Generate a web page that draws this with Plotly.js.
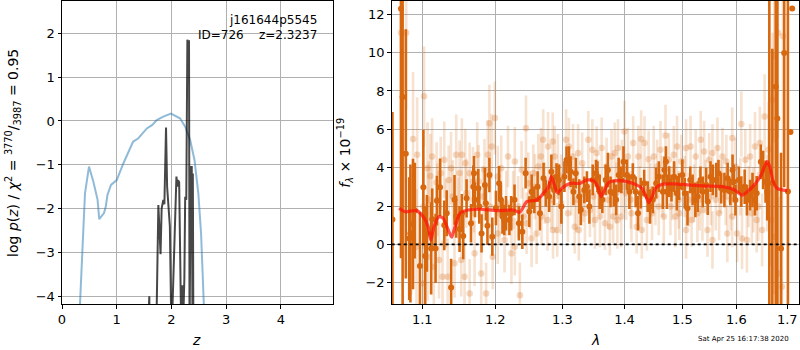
<!DOCTYPE html>
<html><head><meta charset="utf-8">
<script src="https://cdn.plot.ly/plotly-3.0.1.min.js"></script>
<style>body{margin:0;background:#fff;}#chart{width:800px;height:350px;}</style>
</head><body><div id="chart"></div>
<script>
// ---- left panel: redshift PDF (blue) and chi2 curve (dark) ----
const pzZ    = [0.30, 0.329, 0.42, 0.493, 0.572, 0.65, 0.68, 0.72, 0.767, 0.80, 0.83, 0.895, 1.0, 1.12, 1.30, 1.39, 1.55, 1.65, 1.73, 1.85, 1.99, 2.155, 2.25, 2.34, 2.42, 2.49, 2.54, 2.59, 2.62];
const pzLogP = [-6, -4.17, -1.65, -1.04, -1.38, -1.80, -2.24, -2.18, -2.10, -1.95, -1.69, -1.46, -1.35, -0.97, -0.47, -0.40, -0.17, -0.09, 0.02, 0.10, 0.17, 0.06, -0.13, -0.43, -0.89, -1.65, -2.56, -4.17, -6];
const chiZ    = [1.56, 1.595, 1.60, 1.63, 1.72, 1.76, 1.80, 1.82, 1.85, 1.87, 1.90, 1.92, 1.94, 1.97, 2.00, 2.045, 2.07, 2.09, 2.11, 2.12, 2.14, 2.18, 2.20, 2.22, 2.235, 2.25, 2.27, 2.29, 2.30, 2.32, 2.33, 2.35, 2.37, 2.385, 2.39, 2.40, 2.42, 2.45];
const chiLogP = [-5, -4.0, -5, -5, -5, -1.92, -3.04, -2.0, -1.80, -1.9, -0.15, -1.5, -1.85, -2.4, -5, -2.96, -1.6, -1.27, -1.5, -1.35, -1.4, -5, -3.75, -4.3, -3.6, -1.73, -1.8, 1.85, 1.82, 1.82, -5, -1.05, -1.05, -5, -1.2, -5, -5, -5];

// ---- right panel: spectrum ----
const darkWave = [1.0615,1.0724,1.0745,1.0786,1.0830,1.0845,1.0879,1.0902,1.0969,1.1014,1.1038,1.1061,1.1117,1.1131,1.1176,1.1194,1.1236,1.1292,1.1325,1.1385,1.1431,1.1454,1.1500,1.1532,1.1551,1.1597,1.1658,1.1690,1.1700,1.1714,1.1760,1.1774,1.1806,1.1853,1.1867,1.1889,1.1917,1.1958,1.2010,1.2055,1.2081,1.2104,1.2130,1.2155,1.2204,1.2230,1.2279,1.2343,1.2394,1.2443,1.2498,1.2533,1.2573,1.2622,1.2657,1.2712,1.2746,1.2797,1.2831,1.2872,1.2910,1.2946,1.2985,1.3032,1.3065,1.3103,1.3129,1.3173,1.3210,1.3265,1.3290,1.3345,1.3387,1.3426,1.3479,1.3532,1.3555,1.3592,1.3635,1.3689,1.3726,1.3769,1.3823,1.3861,1.3903,1.3947,1.3984,1.4042,1.4082,1.4140,1.4188,1.4228,1.4275,1.4333,1.4393,1.4433,1.4481,1.4539,1.4586,1.4656,1.4684,1.4709,1.4726,1.4767,1.4807,1.4854,1.4902,1.4942,1.5000,1.5044,1.5093,1.5143,1.5185,1.5235,1.5278,1.5328,1.5370,1.5433,1.5463,1.5513,1.5556,1.5619,1.5661,1.5711,1.5772,1.5833,1.5883,1.5926,1.5951,1.5981,1.6045,1.6094,1.6158,1.6202,1.6264,1.6309,1.6358,1.6391,1.6472,1.6517,1.6566,1.6598,1.6640,1.6700,1.6768,1.6800,1.6875,1.6938,1.7013,1.7065,1.7100];
const darkFlux = [1.3,12.28,7.68,4.72,0.3,0.57,1.06,1.76,-1.13,2.98,-0.61,0.57,-0.21,1.31,-0.21,2.28,2.98,0.99,1.62,-2.25,2.32,1.45,0.80,1.62,0.43,2.40,1.10,3.01,3.71,2.32,2.93,1.97,0.57,3.10,2.14,0.97,3.62,0.40,1.90,3.19,2.32,1.45,1.27,1.62,1.27,1.62,2.32,1.10,0.66,3.71,1.71,2.74,2.32,3.01,1.62,3.45,2.67,2.49,3.79,2.84,3.53,3.36,1.97,3.53,4.40,4.22,3.79,2.74,3.71,2.49,1.80,2.84,3.01,1.97,3.36,3.71,3.53,2.74,2.32,3.36,3.88,2.74,2.67,2.32,3.62,3.36,4.31,3.62,2.74,3.53,2.74,1.62,2.67,3.19,2.49,1.97,2.32,3.19,3.53,2.74,3.88,4.31,2.74,3.27,2.93,3.53,2.67,3.01,3.62,2.67,1.88,3.36,2.84,2.32,2.49,3.36,2.74,3.10,2.23,3.53,3.36,3.36,3.71,2.93,2.84,3.45,2.74,3.88,3.27,2.31,3.36,2.75,3.01,2.31,2.57,2.83,2.31,2.66,4.31,3.88,3.27,2.75,3.80,3.20,8.22,6.56,-0.22,9.98,2.75,5.86,12.3];
const darkErr  = [5.6,13,11,6.5,3.2,3.6,3.4,2.5,2.8,3.0,2.6,2.0,2.4,1.6,1.8,1.3,1.5,1.3,1.2,1.5,1.3,1.1,1.2,1.0,1.2,1.0,1.0,1.1,0.9,0.9,1.0,0.9,1.0,0.9,0.9,1.0,0.9,1.0,0.9,0.9,0.8,0.9,0.8,0.9,0.8,0.9,0.8,0.9,0.9,0.8,0.8,0.9,0.7,0.8,0.9,0.8,0.7,0.8,0.9,0.8,0.7,0.8,0.9,0.8,0.7,0.9,0.8,0.7,0.8,0.9,0.8,0.7,0.8,0.9,0.8,0.7,0.8,0.9,0.7,0.8,0.9,0.8,0.7,0.8,0.9,0.7,0.8,0.8,0.9,0.7,0.8,0.9,0.8,0.7,0.8,0.9,0.7,0.8,0.8,0.9,0.7,0.8,0.9,0.8,0.7,0.8,0.9,0.7,0.8,0.8,0.9,0.7,0.8,0.9,0.8,0.7,0.8,0.9,0.7,0.8,0.8,0.9,0.7,0.8,0.9,0.8,0.7,0.8,0.9,0.8,0.7,0.8,0.9,0.8,0.8,0.9,0.8,0.9,0.9,1.0,1.1,1.5,9.0,7.0,13,12,5.0,7,10];

const lightWave = [1.0724,1.0791,1.1023,1.0880,1.0933,1.1069,1.1106,1.1130,1.1190,1.1245,1.1292,1.1352,1.1384,1.1454,1.1500,1.1532,1.1579,1.1639,1.1685,1.1745,1.1764,1.1847,1.1894,1.1917,1.1949,1.1995,1.2035,1.2085,1.2184,1.2284,1.2383,1.2448,1.2483,1.2557,1.2632,1.2672,1.2706,1.2781,1.2851,1.2881,1.2930,1.2980,1.3059,1.3102,1.3167,1.3247,1.3312,1.3409,1.3473,1.3543,1.3624,1.3704,1.3785,1.3839,1.3892,1.3957,1.4000,1.4058,1.4146,1.4234,1.4281,1.4339,1.4409,1.4497,1.4556,1.4614,1.4702,1.4760,1.4848,1.4906,1.4982,1.5068,1.5148,1.5241,1.5333,1.5395,1.5488,1.5549,1.5642,1.5735,1.5809,1.5920,1.5981,1.6094,1.6170,1.6264,1.6358,1.6453,1.6547,1.6623,1.6704,1.6736,1.6811,1.6912,
  1.0858,1.0924,1.1014,1.1069,1.1153,1.1222,1.1269,1.1338,1.1431,1.1523,1.1569,1.1639,1.1708,1.1801,1.1870,1.1963,1.2035,1.2134,1.2234,1.2284,1.2358,1.2408,1.2458,1.2532,1.2607,1.2682,1.2771,1.2856,1.2920,1.2980,1.3086,1.3194,1.3258,1.3355,1.3435,1.3516,1.3597,1.3677,1.3758,1.3812,1.3882,1.3946,1.4029,1.4117,1.4205,1.4292,1.4380,1.4468,1.4585,1.4673,1.4789,1.4877,1.4947,1.5068,1.5167,1.5272,1.5364,1.5457,1.5549,1.5673,1.5827,1.5920,1.6013,1.6107,1.6201,1.6296,1.6390,1.6497,1.6673,1.6736,1.6830,1.6893,
  1.1014,1.1083,1.1199,1.1315,1.1407,1.1486,1.1593,1.1699,1.1824,1.1931,1.2060,1.2159,1.2259,1.2333,1.2507,1.2582,1.2731,1.2831,1.2955,1.3140,1.3220,1.3328,1.3489,1.3570,1.3731,1.3866,1.3989,1.4105,1.4263,1.4439,1.4526,1.4643,1.4819,1.4936,1.5043,1.5117,1.5210,1.5315,1.5426,1.5519,1.5611,1.5704,1.5796,1.5889,1.6075,1.6233,1.6327,1.6421,1.6597];
const lightFlux = [11.03,11.03,7.72,5.49,4.67,3.97,3.57,4.58,3.22,3.71,4.41,3.36,3.97,4.67,3.71,4.67,4.23,3.71,3.28,4.67,3.28,3.89,4.67,6.32,5.10,6.59,3.54,3.97,4.58,4.32,3.89,6.06,3.19,3.71,4.06,4.58,5.45,5.10,5.37,4.58,4.06,3.19,5.45,5.10,4.58,4.76,4.23,5.45,4.93,4.76,5.02,4.06,4.58,4.76,5.02,4.06,5.89,4.58,5.28,4.58,5.49,5.28,4.44,4.58,4.06,4.93,5.68,4.41,4.67,5.10,4.32,5.02,5.10,4.58,5.45,4.84,4.41,4.76,5.02,4.58,4.32,5.54,4.06,6.27,4.41,4.58,5.10,5.28,6.67,4.93,7.54,9.81,11.03,10.85,
  0.57,-0.12,-2.04,-0.64,-1.17,-0.82,-1.69,-1.69,-0.99,-0.82,-1.69,-2.56,-0.47,-1.52,-2.56,-0.64,0.57,0.23,-0.47,-0.12,-2.65,1.45,1.10,0.31,0.57,1.45,1.27,0.75,0.75,2.14,1.62,0.92,0.75,1.62,1.79,1.27,1.45,1.10,0.92,1.45,1.27,1.45,2.67,1.62,0.92,0.75,1.27,1.62,1.97,1.45,1.97,1.45,1.62,0.75,1.27,1.62,1.79,0.75,0.23,1.62,0.57,1.45,0.57,0.31,0.23,1.62,1.27,0.75,1.27,0.40,-1.52,-2.21,
  1.97,2.32,2.32,1.62,2.49,1.79,2.67,2.32,2.49,1.97,1.62,2.14,2.32,1.97,2.32,3.01,2.67,2.32,2.49,3.01,2.32,2.67,2.49,3.01,2.32,2.67,3.01,2.32,2.49,2.84,2.49,3.01,2.67,2.32,3.01,2.32,2.67,2.32,3.01,2.49,2.32,3.01,2.49,2.32,3.01,2.49,2.32,1.97,2.67];
const lightErr = [5,4,2.6,3.5,3.0,2.4,2.2,2.0,2.1,1.9,2.0,1.8,1.9,2.1,1.7,1.9,1.8,1.6,1.8,1.7,1.9,1.6,1.8,2.0,1.7,1.9,1.6,1.7,1.6,1.8,1.5,1.7,1.6,1.5,1.7,1.5,1.6,1.8,1.5,1.6,1.7,1.5,1.6,1.5,1.7,1.5,1.6,1.5,1.6,1.4,1.6,1.5,1.4,1.6,1.5,1.4,1.6,1.5,1.4,1.6,1.5,1.4,1.5,1.6,1.4,1.5,1.6,1.4,1.5,1.6,1.4,1.5,1.6,1.4,1.5,1.6,1.4,1.5,1.6,1.5,1.4,1.6,1.5,1.7,1.6,1.7,1.8,1.9,2.2,2.5,3.5,4.5,5.5,6.5,
  3.2,3.0,2.6,2.3,2.1,2.0,1.9,2.0,1.8,1.9,1.7,1.8,1.7,1.8,1.6,1.7,1.6,1.7,1.6,1.5,1.7,1.5,1.6,1.5,1.6,1.5,1.6,1.5,1.4,1.6,1.5,1.4,1.6,1.5,1.4,1.5,1.6,1.4,1.5,1.4,1.5,1.6,1.4,1.5,1.4,1.5,1.6,1.4,1.5,1.4,1.5,1.6,1.4,1.5,1.4,1.5,1.6,1.4,1.5,1.4,1.5,1.6,1.5,1.6,1.7,1.6,1.7,1.9,2.4,3.0,4.0,5.0,
  2.2,2.0,1.9,1.8,1.9,1.7,1.8,1.7,1.6,1.8,1.6,1.7,1.5,1.6,1.5,1.7,1.6,1.5,1.6,1.5,1.7,1.5,1.6,1.4,1.5,1.6,1.4,1.5,1.6,1.4,1.5,1.6,1.4,1.5,1.6,1.4,1.5,1.6,1.4,1.5,1.6,1.4,1.5,1.6,1.5,1.6,1.7,1.8,2.0];

const modelWave = [1.0700,1.0776,1.0926,1.1013,1.1078,1.1113,1.1155,1.1218,1.1277,1.1346,1.1392,1.1438,1.1505,1.1620,1.1784,1.2018,1.2262,1.2357,1.2399,1.2459,1.2608,1.2711,1.2786,1.2829,1.2862,1.2923,1.2991,1.3120,1.3277,1.3384,1.3490,1.3571,1.3614,1.3672,1.3737,1.3877,1.4044,1.4212,1.4297,1.4354,1.4411,1.4469,1.4527,1.4643,1.4848,1.5147,1.5451,1.5760,1.5949,1.6110,1.6206,1.6368,1.6478,1.6544,1.6597,1.6650,1.6717,1.6797,1.7001];
const modelFlux = [1.88,1.70,1.76,1.44,0.92,0.22,0.92,1.44,1.36,0.75,0.37,0.92,1.62,1.79,1.83,1.76,1.79,1.67,1.88,2.23,2.31,2.66,3.00,3.53,3.27,2.69,2.92,3.18,3.18,3.36,3.32,2.92,2.49,2.83,3.22,3.32,3.27,3.09,2.92,2.57,2.18,2.49,2.92,3.13,3.15,3.09,3.04,3.00,2.86,2.57,2.74,3.18,3.62,4.05,4.31,4.05,3.27,2.92,2.80];

const zTicks = [0, 1, 2, 3, 4];
const pTicks = [-4, -3, -2, -1, 0, 1, 2];
const lamTicks = [1.1, 1.2, 1.3, 1.4, 1.5, 1.6, 1.7];
const fTicks = [-2, 0, 2, 4, 6, 8, 10, 12];

const ORANGE = 'rgb(216,104,15)';
const font = 'DejaVu Sans, Liberation Sans, sans-serif';

const traces = [
  {x: pzZ, y: pzLogP, xaxis: 'x', yaxis: 'y', mode: 'lines', line: {color: 'rgba(31,119,180,0.5)', width: 2}, hoverinfo: 'skip'},
  {x: chiZ, y: chiLogP, xaxis: 'x', yaxis: 'y', mode: 'lines', line: {color: 'rgba(0,0,0,0.72)', width: 2}, hoverinfo: 'skip'},
  {x: lightWave, y: lightFlux, xaxis: 'x2', yaxis: 'y2', mode: 'markers',
   marker: {color: 'rgba(216,104,15,0.25)', size: 6.5, line: {width: 0}},
   error_y: {type: 'data', array: lightErr, visible: true, thickness: 2.6, width: 0, color: 'rgba(216,104,15,0.2)'}, hoverinfo: 'skip'},
  {x: darkWave, y: darkFlux, xaxis: 'x2', yaxis: 'y2', mode: 'markers',
   marker: {color: ORANGE, size: 6, line: {width: 0}},
   error_y: {type: 'data', array: darkErr, visible: true, thickness: 2.6, width: 0, color: ORANGE}, hoverinfo: 'skip'},
  {x: modelWave, y: modelFlux, xaxis: 'x2', yaxis: 'y2', mode: 'lines', line: {color: 'rgba(255,20,10,0.72)', width: 3.2, shape: 'spline', smoothing: 0.6}, hoverinfo: 'skip'}
];

const axBase = {
  showline: true, mirror: true, linecolor: '#000', linewidth: 1,
  ticks: 'outside', ticklen: 3.5, tickwidth: 1, tickcolor: '#000',
  showgrid: true, gridcolor: '#b0b0b0', gridwidth: 1, zeroline: false,
  tickfont: {family: font, size: 13, color: '#000'}
};

const layout = {
  width: 800, height: 350,
  margin: {l: 0, r: 0, t: 1, b: 46},
  paper_bgcolor: '#fff', plot_bgcolor: '#fff',
  showlegend: false,
  font: {family: font, color: '#000'},
  xaxis: Object.assign({}, axBase, {domain: [0.0775, 0.4166], range: [0, 4.955], tickvals: zTicks, anchor: 'y'}),
  yaxis: Object.assign({}, axBase, {domain: [0, 1], range: [-4.176, 2.737], tickvals: pTicks, anchor: 'x'}),
  xaxis2: Object.assign({}, axBase, {domain: [0.4896, 0.9991], type: 'log', range: [0.02554, 0.23667], tickvals: lamTicks, ticktext: lamTicks.map(v => v.toFixed(1)), anchor: 'y2'}),
  yaxis2: Object.assign({}, axBase, {domain: [0, 1], range: [-3.11, 12.69], tickvals: fTicks, anchor: 'x2'}),
  shapes: [
    {type: 'line', xref: 'x2 domain', x0: 0, x1: 1, yref: 'y2', y0: 0, y1: 0, line: {color: '#000', width: 1.8, dash: 'dot'}}
  ],
  annotations: [
    {xref: 'paper', yref: 'paper', x: 0.399, y: 0.937, xanchor: 'right', yanchor: 'middle', showarrow: false, text: 'j161644p5545', font: {size: 12, family: font}},
    {xref: 'paper', yref: 'paper', x: 0.399, y: 0.888, xanchor: 'right', yanchor: 'middle', showarrow: false, text: 'ID=726\u00a0\u00a0\u00a0\u00a0z=2.3237', font: {size: 12, family: font}},
    {xref: 'paper', yref: 'paper', x: 0.246, y: -0.119, xanchor: 'center', yanchor: 'middle', showarrow: false, text: '<i>z</i>', font: {size: 14, family: font}},
    {xref: 'paper', yref: 'paper', x: 0.744, y: -0.119, xanchor: 'center', yanchor: 'middle', showarrow: false, text: '<i>λ</i>', font: {size: 14, family: font}},
    {xref: 'paper', yref: 'paper', x: 0.016, y: 0.498, xanchor: 'center', yanchor: 'middle', textangle: -90, showarrow: false,
     text: 'log <i>p</i>(<i>z</i>) / <i>χ</i><sup>2</sup> = <sup>3770</sup>/<sub>3987</sub> = 0.95', font: {size: 14, family: font}},
    {xref: 'paper', yref: 'paper', x: 0.432, y: 0.498, xanchor: 'center', yanchor: 'middle', textangle: -90, showarrow: false,
     text: '<i>f</i><sub><i>λ</i></sub> × 10<sup>−19</sup>', font: {size: 14, family: font}},
    {xref: 'paper', yref: 'paper', x: 0.929, y: -0.116, xanchor: 'center', yanchor: 'middle', showarrow: false, text: 'Sat Apr 25 16:17:38 2020', font: {size: 7, family: font}}
  ]
};

Plotly.newPlot('chart', traces, layout, {staticPlot: true, displayModeBar: false});
</script>
</body></html>
